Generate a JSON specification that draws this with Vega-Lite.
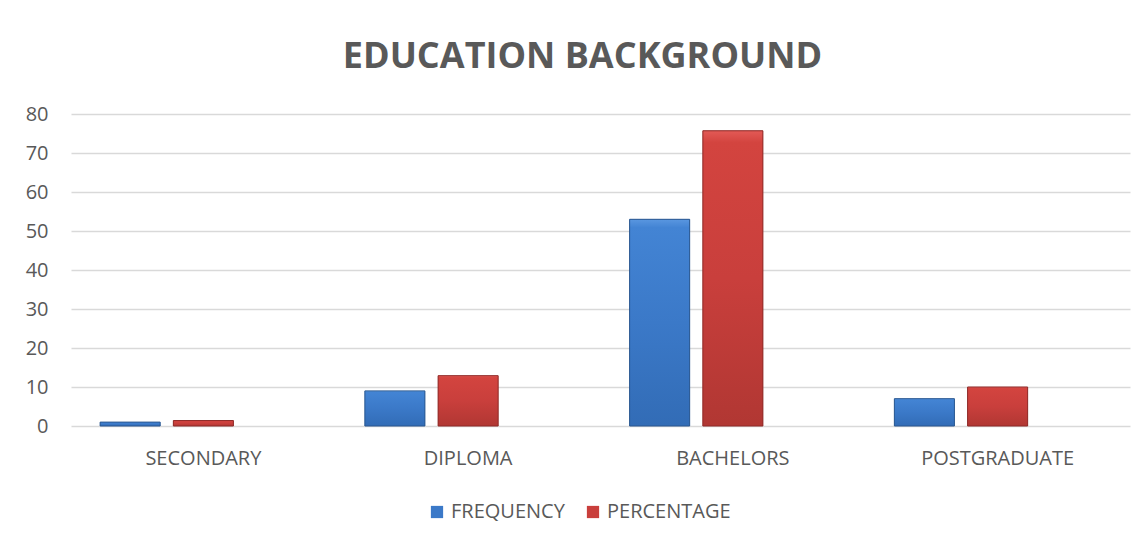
{
  "$schema": "https://vega.github.io/schema/vega-lite/v6.json",
  "width": 1059,
  "height": 312,
  "autosize": {"type": "none"},
  "padding": {"left": 71, "top": 114, "right": 15, "bottom": 118},
  "background": "white",
  "title": {
    "text": "EDUCATION BACKGROUND",
    "font": "Open Sans",
    "fontSize": 36,
    "fontWeight": "bold",
    "color": "#595959",
    "anchor": "middle",
    "frame": "group",
    "dx": -18,
    "offset": 28
  },
  "data": {
    "values": [
      {"level": "SECONDARY", "series": "FREQUENCY", "value": 1},
      {"level": "SECONDARY", "series": "PERCENTAGE", "value": 1.4},
      {"level": "DIPLOMA", "series": "FREQUENCY", "value": 9},
      {"level": "DIPLOMA", "series": "PERCENTAGE", "value": 12.9},
      {"level": "BACHELORS", "series": "FREQUENCY", "value": 53},
      {"level": "BACHELORS", "series": "PERCENTAGE", "value": 75.7},
      {"level": "POSTGRADUATE", "series": "FREQUENCY", "value": 7},
      {"level": "POSTGRADUATE", "series": "PERCENTAGE", "value": 10}
    ]
  },
  "encoding": {
    "x": {
      "field": "level",
      "type": "nominal",
      "sort": ["SECONDARY", "DIPLOMA", "BACHELORS", "POSTGRADUATE"],
      "scale": {"paddingInner": 0.22, "paddingOuter": 0.11},
      "axis": {
        "title": null,
        "labelAngle": 0,
        "ticks": false,
        "domain": false,
        "labelPadding": 22,
        "labelFont": "Open Sans",
        "labelFontSize": 20,
        "labelColor": "#595959"
      }
    },
    "xOffset": {
      "field": "series",
      "type": "nominal",
      "scale": {"domain": ["FREQUENCY", "PERCENTAGE", "BLANK"], "paddingInner": 0.18, "paddingOuter": 0}
    },
    "y": {
      "field": "value",
      "type": "quantitative",
      "scale": {"domain": [0, 80], "nice": false},
      "axis": {
        "title": null,
        "values": [0, 10, 20, 30, 40, 50, 60, 70, 80],
        "ticks": false,
        "domain": false,
        "labelPadding": 23,
        "labelFont": "Open Sans",
        "labelFontSize": 20,
        "labelColor": "#595959",
        "gridColor": "#D9D9D9",
        "gridWidth": 1.5
      }
    }
  },
  "layer": [
    {
      "mark": {"type": "bar"},
      "encoding": {
        "color": {
          "field": "series",
          "type": "nominal",
          "scale": {"domain": ["FREQUENCY", "PERCENTAGE"], "range": ["#3B79C8", "#C93F3C"]},
          "legend": {
            "title": null,
            "orient": "none",
            "legendX": 356,
            "legendY": 388,
            "direction": "horizontal",
            "symbolType": "square",
            "symbolSize": 150,
            "symbolStrokeWidth": 0,
            "labelFont": "Open Sans",
            "labelFontSize": 20,
            "labelColor": "#595959",
            "labelOffset": 4,
            "columnPadding": 18
          }
        }
      }
    },
    {
      "transform": [{"filter": "datum.series === 'FREQUENCY'"}],
      "mark": {
        "type": "bar",
        "stroke": "#2A578F",
        "strokeWidth": 1,
        "color": {
          "gradient": "linear",
          "x1": 0, "y1": 0, "x2": 0, "y2": 1,
          "stops": [
            {"offset": 0, "color": "#5A97E0"},
            {"offset": 0.04, "color": "#4384D4"},
            {"offset": 0.5, "color": "#3B79C8"},
            {"offset": 1, "color": "#326CB6"}
          ]
        }
      }
    },
    {
      "transform": [{"filter": "datum.series === 'PERCENTAGE'"}],
      "mark": {
        "type": "bar",
        "stroke": "#8E2B28",
        "strokeWidth": 1,
        "color": {
          "gradient": "linear",
          "x1": 0, "y1": 0, "x2": 0, "y2": 1,
          "stops": [
            {"offset": 0, "color": "#E35A56"},
            {"offset": 0.04, "color": "#D3443F"},
            {"offset": 0.5, "color": "#C93F3C"},
            {"offset": 1, "color": "#B13733"}
          ]
        }
      }
    }
  ],
  "config": {"view": {"stroke": null}}
}
